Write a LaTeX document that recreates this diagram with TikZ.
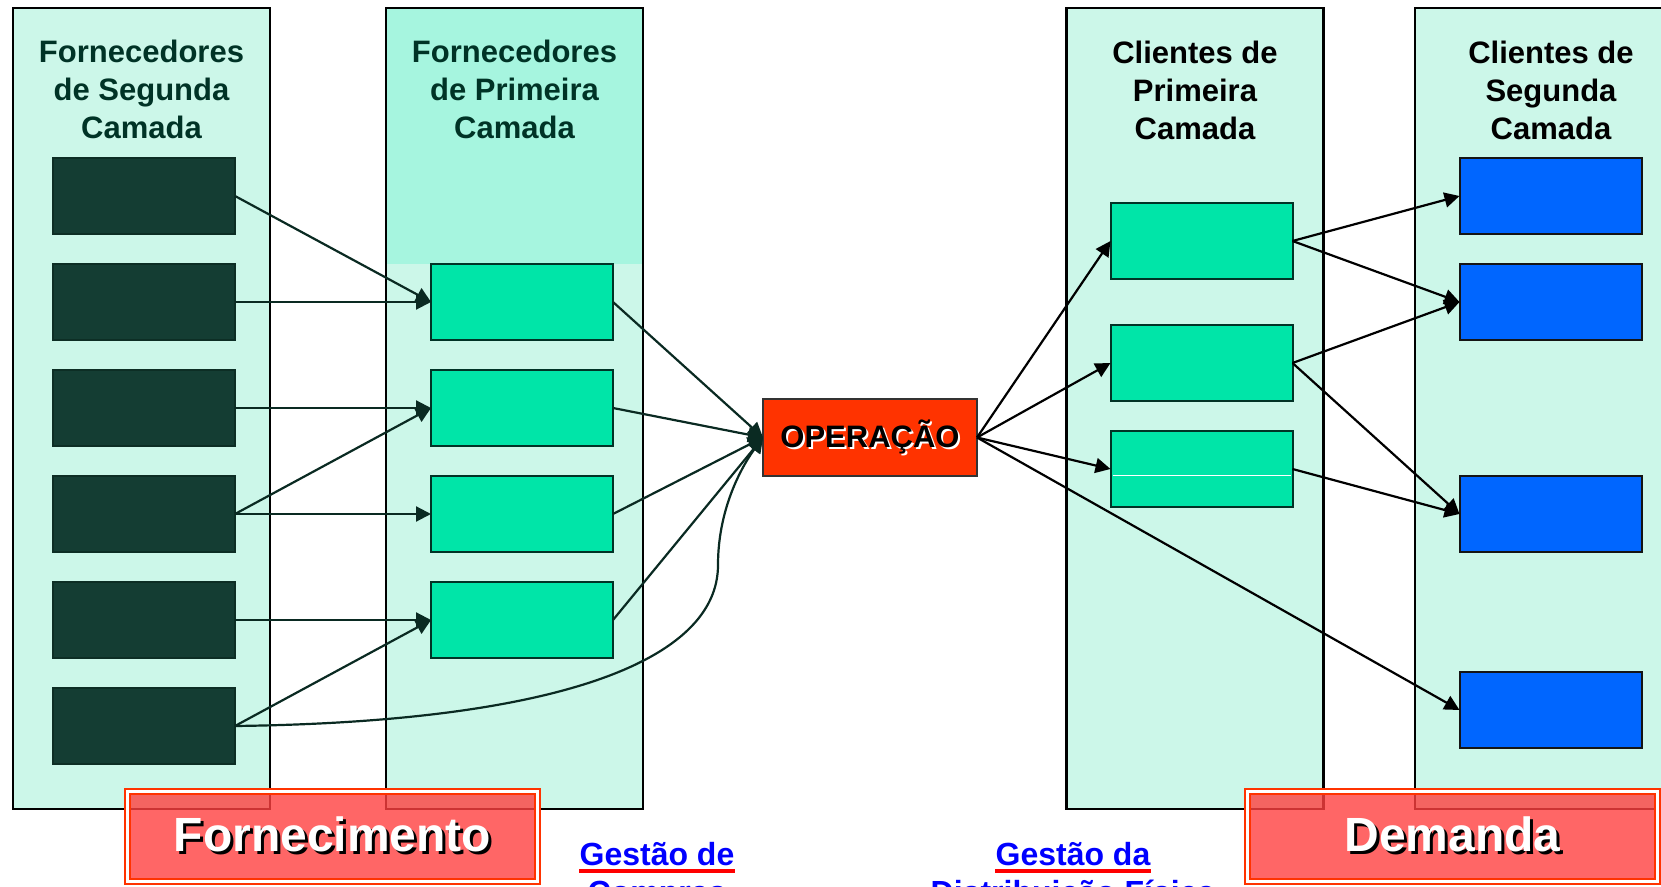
\documentclass[tikz,border=0pt]{standalone}
\usepackage{xcolor}
\usepackage{fontspec}
\setmainfont{Liberation Sans}
\usepackage{tikz}
\usetikzlibrary{positioning,calc,arrows.meta}

\definecolor{colfill}{HTML}{CCF7E9}
\definecolor{headfill}{HTML}{A6F5DF}
\definecolor{headtext}{HTML}{003326}
\definecolor{darkbox}{HTML}{143D33}
\definecolor{darkedge}{HTML}{0D2E25}
\definecolor{greenbox}{HTML}{00E5A8}
\definecolor{greenedge}{HTML}{003326}
\definecolor{bluebox}{HTML}{0066FF}
\definecolor{blueedge}{HTML}{151515}
\definecolor{opfill}{HTML}{FF3300}
\definecolor{dkline}{HTML}{0A2A22}
\definecolor{bannerred}{HTML}{FF4040}
\definecolor{bannerline}{HTML}{FF3300}
\definecolor{linkblue}{HTML}{0000FF}

\newcommand{\dropshadowtext}[4]{\rlap{\kern#3\raisebox{-#3}{\color{#2}#4}}{\color{#1}#4}}

\begin{document}
\begin{tikzpicture}[x=0.5pt, y=-0.5pt, node distance=15pt,
    layer/.style={rectangle, draw=black, line width=1.2pt, fill=colfill, minimum width=128.5pt, minimum height=400.5pt, outer sep=0pt},
    head/.style={align=center, inner sep=0pt, font=\bfseries\fontsize{15.5}{19}\selectfont},
    supplier/.style={rectangle, draw=darkedge, line width=1pt, fill=darkbox, minimum width=91pt, minimum height=38pt, outer sep=0pt},
    tierone/.style={supplier, draw=greenedge, fill=greenbox},
    customer/.style={supplier, draw=blueedge, fill=bluebox},
    opbox/.style={rectangle, draw=black!80, line width=0.8pt, fill=opfill, minimum width=107pt, minimum height=38.5pt, outer sep=0pt, font=\bfseries\fontsize{15.5}{19}\selectfont},
    banner/.style={rectangle, draw=bannerline, line width=1pt, double=white, double distance=1.5pt, fill=bannerred, fill opacity=0.8, text opacity=1, minimum width=205pt, minimum height=45pt, font=\bfseries\fontsize{24}{28}\selectfont},
    link/.style={text=linkblue, inner sep=0pt, font=\bfseries\fontsize{16}{19}\selectfont},
    uline/.style={draw=red, line width=1.75pt},
    rel/.style={-{Triangle[length=7.5pt,width=7.5pt]}, line width=1.1pt, draw=dkline},
    relr/.style={rel, draw=black}]

    \useasboundingbox (0,0) rectangle (1661,887);
    \clip (0,0) rectangle (1661,887);

    % Columns
    \node[layer] (supply2) at (141.5,408.5) {};
    \node[layer, path picture={\fill[headfill] (path picture bounding box.north west) rectangle ([yshift=-128pt]path picture bounding box.north east);}] (supply1) at (514.5,408.5) {};
    \node[layer] (client1) at (1195,408.5) {};
    \node[layer, minimum width=140pt] (client2) at (1555,408.5) {};

    \node[head, text=headtext] (h2s) at (141.5,89) {Fornecedores\\de Segunda\\Camada};
    \node[head, text=headtext] (h1s) at (514.5,89) {Fornecedores\\de Primeira\\Camada};
    \node[head] (h1c) at (1195,90.5) {Clientes de\\Primeira\\Camada};
    \node[head] (h2c) at (1551,90.5) {Clientes de\\Segunda\\Camada};

    % Nodes
    \node[supplier] (st1) at (144,196) {};
    \node[supplier, below=of st1] (st2) {};
    \node[supplier, below=of st2] (st3) {};
    \node[supplier, below=of st3] (st4) {};
    \node[supplier, below=of st4] (st5) {};
    \node[supplier, below=of st5] (st6) {};

    \node[tierone, right=98pt of st2] (ft1) {};
    \node[tierone, below=of ft1] (ft2) {};
    \node[tierone, below=of ft2] (ft3) {};
    \node[tierone, below=of ft3] (ft4) {};

    \node[opbox] (op) at (870,437.5) {\dropshadowtext{black}{white}{1pt}{OPERAÇÃO}};

    \node[tierone] (fc1) at (1201.5,241) {};
    \node[tierone, below=23pt of fc1] (fc2) {};
    \node[tierone, below=of fc2] (fc3) {};
    \draw[white, line width=0.5pt, shorten >=1pt, shorten <=1pt] ([yshift=-3.25pt]fc3.west) -- ([yshift=-3.25pt]fc3.east);

    \node[customer] (sc1) at (1550.5,196) {};
    \node[customer, below=of sc1] (sc2) {};
    \node[customer, below=68pt of sc2] (sc3) {};
    \node[customer, below=60pt of sc3] (sc4) {};

    % Relationships
    \draw[rel] (st1.east) -- (ft1.west);
    \draw[rel] (st2.east) -- (ft1.west);
    \draw[rel] (st3.east) -- (ft2.west);
    \draw[rel] (st4.east) -- (ft2.west);
    \draw[rel] (st4.east) -- (ft3.west);
    \draw[rel] (st5.east) -- (ft4.west);
    \draw[rel] (st6.east) -- (ft4.west);
    \draw[rel] (ft1.east) -- (op.west);
    \draw[rel] (ft2.east) -- (op.west);
    \draw[rel] (ft3.east) -- (op.west);
    \draw[rel] (ft4.east) -- (op.west);
    \coordinate (rise) at (718,565);
    \draw[rel] (st6.east) .. controls (560,722) and (718,660) .. (rise) .. controls (718,505) and (745,462) .. (op.west);

    \draw[relr] (op.east) -- (fc1.west);
    \draw[relr] (op.east) -- (fc2.west);
    \draw[relr] (op.east) -- (fc3.west);
    \draw[relr] (op.east) -- (sc4.west);
    \draw[relr] (fc1.east) -- (sc1.west);
    \draw[relr] (fc1.east) -- (sc2.west);
    \draw[relr] (fc2.east) -- (sc2.west);
    \draw[relr] (fc2.east) -- (sc3.west);
    \draw[relr] (fc3.east) -- (sc3.west);

    % Banners and links
    \node[banner] (supply) at (332.5,836) {\dropshadowtext{white}{black}{1.5pt}{Fornecimento}};
    \node[banner] (demand) at (1452.5,836) {\dropshadowtext{white}{black}{1.5pt}{Demanda}};

    \node[link, anchor=base] (buy1) at (657,865) {Gestão de};
    \node[link, anchor=base] (buy2) at ([yshift=-19pt]buy1.base) {Compras};
    \draw[uline] ([yshift=-3pt]buy1.base west) -- ([yshift=-3pt]buy1.base east);

    \node[link, anchor=base] (ship1) at (1073,865) {Gestão da};
    \node[link, anchor=base] (ship2) at ([yshift=-19pt]ship1.base) {Distribuição Física};
    \draw[uline] ([yshift=-3pt]ship1.base west) -- ([yshift=-3pt]ship1.base east);

\end{tikzpicture}
\end{document}
